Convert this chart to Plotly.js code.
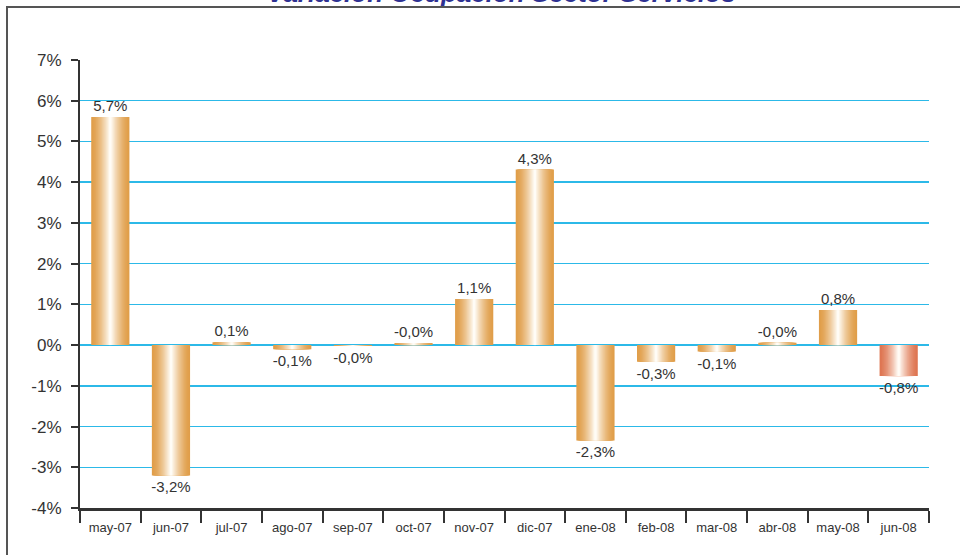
<!DOCTYPE html>
<html>
<head>
<meta charset="utf-8">
<script src="https://cdn.plot.ly/plotly-3.0.1.min.js"></script>
<style>
  html, body { margin: 0; padding: 0; background: #fff; }
  #wrap { position: relative; width: 960px; height: 555px; overflow: hidden; }
  #chart { position: absolute; left: 0; top: 0; width: 960px; height: 555px; }
  #frame { position: absolute; left: 6px; top: 6px; width: 960px; height: 560px;
           border-top: 2px solid #555; border-left: 2px solid #555; pointer-events: none; }
</style>
</head>
<body>
<div id="wrap">
  <div id="chart"></div>
  <div id="frame"></div>
</div>
<script>
// months along the axis
const months = ['may-07', 'jun-07', 'jul-07', 'ago-07', 'sep-07', 'oct-07', 'nov-07',
                'dic-07', 'ene-08', 'feb-08', 'mar-08', 'abr-08', 'may-08', 'jun-08'];
// bar heights (%)
const values = [5.6, -3.2, 0.07, -0.1, -0.02, 0.05, 1.13, 4.31, -2.34, -0.41, -0.16, 0.06, 0.86, -0.76];
// labels printed above / below each bar
const labels = ['5,7%', '-3,2%', '0,1%', '-0,1%', '-0,0%', '-0,0%', '1,1%',
                '4,3%', '-2,3%', '-0,3%', '-0,1%', '-0,0%', '0,8%', '-0,8%'];
// y axis ticks
const yTicks = [-4, -3, -2, -1, 0, 1, 2, 3, 4, 5, 6, 7];
const yTickText = ['-4%', '-3%', '-2%', '-1%', '0%', '1%', '2%', '3%', '4%', '5%', '6%', '7%'];

const titleText = 'Variación Ocupación Sector Servicios';

const orange = [224, 158, 74];
const salmon = [222, 118, 82];
const white = [255, 252, 246];

function mix(a, b, t) {
    return 'rgb(' + a.map((v, i) => Math.round(v + (b[i] - v) * t)).join(',') + ')';
}

const layers = 16;
const fullWidth = 0.63;
let chart_data = [];

/*
Fake a horizontal gradient: stack narrower and paler bars on top of each other,
so the edges stay orange and the middle goes white.
 */
for(let k = 0; k < layers; k++) {
    const t = k / (layers - 1);
    const colors = months.map((m, i) => mix(i === months.length - 1 ? salmon : orange, white, Math.pow(t, 1.5)));
    let trace = {
        type: 'bar',
        x: months,
        y: values,
        width: months.map(() => fullWidth * (1 - k / layers)),
        marker: {
            color: colors,
            line: {width: 0}
        },
        hoverinfo: 'skip',
        showlegend: false
    };
    if(k === 0) {
        trace.text = labels;
        trace.textposition = 'outside';
        trace.constraintext = 'none';
        trace.cliponaxis = false;
        trace.textfont = {family: 'Liberation Sans, Arial, sans-serif', size: 15, color: '#333'};
    }
    chart_data.push(trace);
}

const chart_layout = {
    width: 960,
    height: 555,
    margin: {l: 80, r: 31, t: 60, b: 47},
    paper_bgcolor: 'rgba(0,0,0,0)',
    plot_bgcolor: 'rgba(0,0,0,0)',
    barmode: 'overlay',
    showlegend: false,
    font: {family: 'Liberation Sans, Arial, sans-serif', color: '#333'},
    xaxis: {
        type: 'category',
        showline: true,
        linecolor: '#333',
        linewidth: 3,
        ticks: 'outside',
        tickson: 'boundaries',
        ticklen: 12,
        tickwidth: 2,
        tickcolor: '#333',
        ticklabelstandoff: 5,
        showgrid: false,
        zeroline: false,
        tickfont: {size: 13, color: '#333'},
        fixedrange: true
    },
    yaxis: {
        range: [-4, 7],
        tickmode: 'array',
        tickvals: yTicks,
        ticktext: yTickText,
        showline: true,
        linecolor: '#333',
        linewidth: 2,
        ticks: 'outside',
        ticklen: 7,
        tickwidth: 2,
        tickcolor: '#333',
        ticklabelstandoff: 6,
        showgrid: true,
        gridcolor: '#2cb9e8',
        gridwidth: 1.5,
        zeroline: false,
        tickfont: {size: 17, color: '#333'},
        fixedrange: true
    },
    annotations: [
        {
            text: '<b><i>' + titleText + '</i></b>',
            xref: 'paper',
            yref: 'paper',
            x: 0.497,
            y: 1.112,
            xanchor: 'center',
            yanchor: 'bottom',
            showarrow: false,
            font: {family: 'Liberation Sans, Arial, sans-serif', size: 26, color: '#2e3192'}
        }
    ]
};

Plotly.newPlot('chart', chart_data, chart_layout, {displayModeBar: false, staticPlot: true});
</script>
</body>
</html>
